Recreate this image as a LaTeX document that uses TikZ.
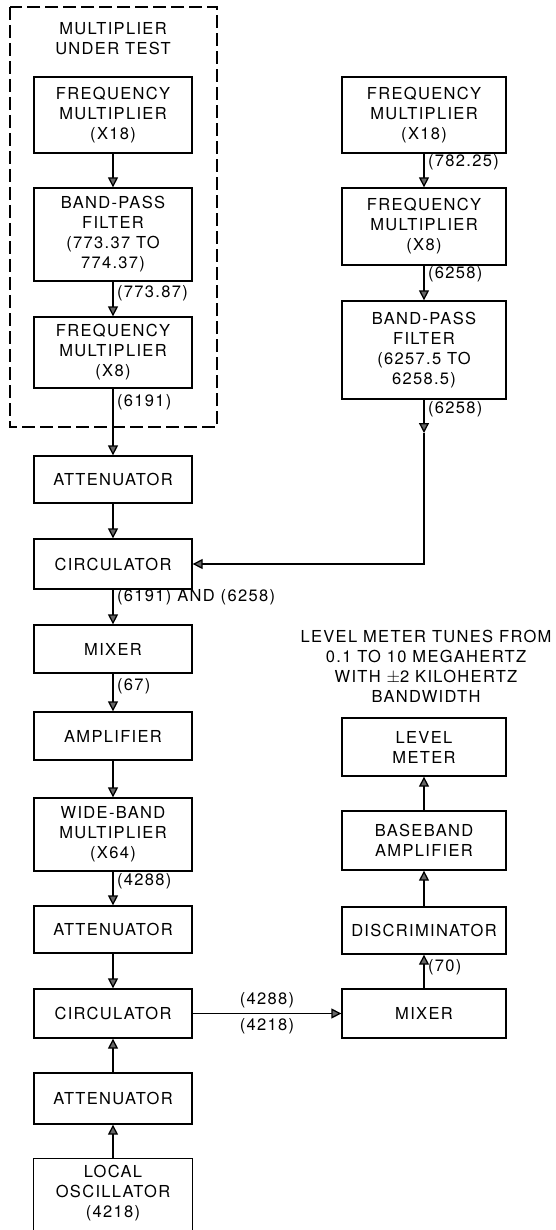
\documentclass[tikz,border=0pt]{standalone}
\usepackage{fontspec}
\setmainfont{TeX Gyre Heros}[LetterSpace=8]
\usetikzlibrary{arrows.meta}

\begin{document}
\begin{tikzpicture}[x=1pt, y=-1pt,
    box/.style={draw, line width=1.3pt, align=center, inner sep=2pt,
        font=\fontsize{16.5}{20}\selectfont},
    lbox/.style={box, minimum width=158pt},
    rbox/.style={box, minimum width=164pt},
    arr/.style={line width=1.3pt, -{Triangle[length=10pt, width=10pt, fill=gray!80!black]}},
    lbl/.style={font=\fontsize{16.5}{20}\selectfont, inner sep=3.5pt}]
    % 0. Page frame
    \path[use as bounding box] (0,0) rectangle (556,1230);
    \clip (0,0) rectangle (556,1230);

    % 1. Multiplier under test (dashed frame)
    \draw[line width=1.4pt, dash pattern=on 13pt off 5pt] (10,7) rectangle (217,427);
    \node[lbl, align=center] (mut) at (113,39) {MULTIPLIER\\UNDER TEST};

    % 2. Left column
    \node[lbox, minimum height=76pt] (lfm1) at (113,115) {FREQUENCY\\MULTIPLIER\\(X18)};
    \node[lbox, minimum height=93pt] (lbpf) at (113,234.5) {BAND-PASS\\FILTER\\(773.37 TO\\774.37)};
    \node[lbox, minimum height=71pt] (lfm2) at (113,352.5) {FREQUENCY\\MULTIPLIER\\(X8)};
    \node[lbox, minimum height=47pt] (att1) at (113,479.5) {ATTENUATOR};
    \node[lbox, minimum height=50pt] (circ1) at (113,564) {CIRCULATOR};
    \node[lbox, minimum height=48pt] (mix1) at (113,649) {MIXER};
    \node[lbox, minimum height=48pt] (amp) at (113,736) {AMPLIFIER};
    \node[lbox, minimum height=73pt] (wbm) at (113,834.5) {WIDE-BAND\\MULTIPLIER\\(X64)};
    \node[lbox, minimum height=47pt] (att2) at (113,929.5) {ATTENUATOR};
    \node[lbox, minimum height=49pt] (circ2) at (113,1013.5) {CIRCULATOR};
    \node[lbox, minimum height=51pt] (att3) at (113,1098.5) {ATTENUATOR};
    \node[lbox, draw=none, minimum height=68pt] (lo) at (113,1193) {LOCAL\\OSCILLATOR\\(4218)};
    \draw[line width=1.3pt] ([yshift=-20pt]lo.south west) -- (lo.north west)
        -- (lo.north east) -- ([yshift=-20pt]lo.south east);

    % 3. Right column (reference chain)
    \node[rbox, minimum height=76pt] (rfm1) at (424,115) {FREQUENCY\\MULTIPLIER\\(X18)};
    \node[rbox, minimum height=77pt] (rfm2) at (424,226.5) {FREQUENCY\\MULTIPLIER\\(X8)};
    \node[rbox, minimum height=98pt] (rbpf) at (424,350) {BAND-PASS\\FILTER\\(6257.5 TO\\6258.5)};
    \coordinate (rmid) at (424,433);

    % 4. Right column (level meter chain)
    \node[lbl, align=center] (note) at (426,666)
        {LEVEL METER TUNES FROM\\0.1 TO 10 MEGAHERTZ\\WITH $\pm$2 KILOHERTZ\\BANDWIDTH};
    \node[rbox, minimum height=58pt] (lvl) at (424,747) {LEVEL\\METER};
    \node[rbox, minimum height=59pt] (bba) at (424,840.5) {BASEBAND\\AMPLIFIER};
    \node[rbox, minimum height=47pt] (disc) at (424,930.5) {DISCRIMINATOR};
    \node[rbox, minimum height=49pt] (mix2) at (424,1013.5) {MIXER};

    % 5. Connectors
    \draw[arr] (lfm1) -- (lbpf);
    \draw[arr] (lbpf) -- (lfm2) node[lbl, pos=0.33, right] {(773.87)};
    \draw[arr] (lfm2) -- (att1) node[lbl, pos=0.2, right] {(6191)};
    \draw[arr] (att1) -- (circ1);
    \draw[arr] (circ1) -- (mix1) node[lbl, pos=0.22, right] {(6191) AND (6258)};
    \draw[arr] (mix1) -- (amp) node[lbl, pos=0.33, right] {(67)};
    \draw[arr] (amp) -- (wbm);
    \draw[arr] (wbm) -- (att2) node[lbl, pos=0.29, right] {(4288)};
    \draw[arr] (att2) -- (circ2);
    \draw[arr] (att3) -- (circ2);
    \draw[arr] (lo) -- (att3);

    \draw[arr] (rfm1) -- (rfm2) node[lbl, pos=0.26, right] {(782.25)};
    \draw[arr] (rfm2) -- (rbpf) node[lbl, pos=0.25, right] {(6258)};
    \draw[arr] (rbpf) -- (rmid) node[lbl, pos=0.3, right] {(6258)};
    \draw[arr] (rmid) -- (rmid |- circ1.east) -- (circ1.east);

    \draw[arr] (circ2) -- (mix2)
        node[lbl, midway, above=1pt] {(4288)}
        node[lbl, midway, below=1pt] {(4218)};
    \draw[arr] (mix2) -- (disc) node[lbl, pos=0.63, right] {(70)};
    \draw[arr] (disc) -- (bba);
    \draw[arr] (bba) -- (lvl);
\end{tikzpicture}
\end{document}
